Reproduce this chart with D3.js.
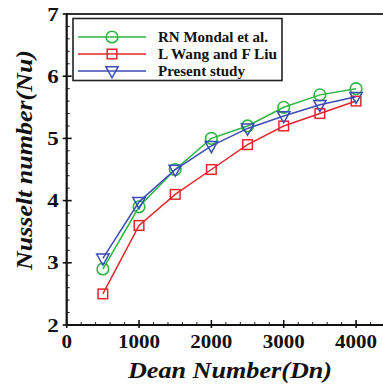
<!DOCTYPE html>
<html><head><meta charset="utf-8">
<script src="https://cdn.jsdelivr.net/npm/d3@7"></script>
<style>html,body{margin:0;padding:0;background:#fff;}svg{display:block;}</style>
</head><body>
<svg id="c" width="383" height="385"></svg>
<script>
const dean = [500, 1000, 1500, 2000, 2500, 3000, 3500, 4000];
const mondal = [2.9, 3.9, 4.5, 5.0, 5.2, 5.5, 5.7, 5.8];
const wang = [2.5, 3.6, 4.1, 4.5, 4.9, 5.2, 5.4, 5.6];
const present = [3.07, 3.98, 4.5, 4.88, 5.16, 5.36, 5.54, 5.67];
const seriesNames = ["RN Mondal et al.", "L Wang and F Liu", "Present study"];
const xTicks = [0, 1000, 2000, 3000, 4000];
const yTicks = [2, 3, 4, 5, 6, 7];

const svg = d3.select("#c");
const L = 66.7, R = 385, T = 14, B = 325;
const x = d3.scaleLinear().domain([0, 4400]).range([L, R]);
const y = d3.scaleLinear().domain([2, 7]).range([B, T]);
const font = "'Liberation Serif','Times New Roman',serif";

const series = [
  {name: seriesNames[0], vals: mondal, color: "#2fb543", shape: "circle", w: 110},
  {name: seriesNames[1], vals: wang, color: "#e5262d", shape: "square", w: 119},
  {name: seriesNames[2], vals: present, color: "#3b4db3", shape: "tri", w: 87}
];

// minor ticks
const xMinor = d3.range(0, 4401, 200).filter(v => v % 1000 !== 0);
svg.append("g").selectAll("line").data(xMinor).join("line")
  .attr("x1", d => x(d)).attr("x2", d => x(d)).attr("y1", B).attr("y2", B - 3)
  .attr("stroke", "#222").attr("stroke-width", 1);
const yMinor = d3.range(2, 7.001, 0.2).filter(v => Math.abs(v - Math.round(v)) > 0.01);
svg.append("g").selectAll("line").data(yMinor).join("line")
  .attr("x1", L).attr("x2", L + 3).attr("y1", d => y(d)).attr("y2", d => y(d))
  .attr("stroke", "#222").attr("stroke-width", 1);
// major ticks
svg.append("g").selectAll("line").data(xTicks).join("line")
  .attr("x1", d => x(d)).attr("x2", d => x(d)).attr("y1", B + 3).attr("y2", B - 5)
  .attr("stroke", "#111").attr("stroke-width", 1.6);
svg.append("g").selectAll("line").data(yTicks).join("line")
  .attr("x1", L - 4).attr("x2", L + 5).attr("y1", d => y(d)).attr("y2", d => y(d))
  .attr("stroke", "#111").attr("stroke-width", 1.6);

// frame
svg.append("line").attr("x1", L).attr("x2", 383).attr("y1", T).attr("y2", T)
  .attr("stroke", "#333").attr("stroke-width", 2.2);
svg.append("line").attr("x1", L).attr("x2", 383).attr("y1", B).attr("y2", B)
  .attr("stroke", "#111").attr("stroke-width", 2.2);
svg.append("line").attr("x1", L).attr("x2", L).attr("y1", T - 1).attr("y2", B + 1)
  .attr("stroke", "#111").attr("stroke-width", 2.2);

// tick labels
svg.append("g").selectAll("text").data(xTicks).join("text")
  .attr("x", d => x(d)).attr("y", B + 23).attr("text-anchor", "middle")
  .attr("font-family", font).attr("font-weight", "bold").attr("font-size", 19)
  .attr("textLength", d => String(d).length * 10.5).attr("lengthAdjust", "spacingAndGlyphs")
  .attr("fill", "#111").text(d => d);
svg.append("g").selectAll("text").data(yTicks).join("text")
  .attr("x", L - 8).attr("y", d => y(d) + 6.5).attr("text-anchor", "end")
  .attr("font-family", font).attr("font-weight", "bold").attr("font-size", 19)
  .attr("textLength", 11.5).attr("lengthAdjust", "spacingAndGlyphs")
  .attr("fill", "#111").text(d => d);

// axis titles
svg.append("text").attr("x", 230).attr("y", 378).attr("text-anchor", "middle")
  .attr("font-family", font).attr("font-weight", "bold").attr("font-style", "italic")
  .attr("font-size", 23).attr("textLength", 204).attr("lengthAdjust", "spacingAndGlyphs")
  .attr("fill", "#111").text("Dean Number(Dn)");
svg.append("text").attr("transform", "translate(32,160) rotate(-90)").attr("text-anchor", "middle")
  .attr("font-family", font).attr("font-weight", "bold").attr("font-style", "italic")
  .attr("font-size", 23).attr("textLength", 220).attr("lengthAdjust", "spacingAndGlyphs")
  .attr("fill", "#111").text("Nusselt number(Nu)");

function marker(g, shape, color, cx, cy) {
  if (shape === "circle") {
    g.append("circle").attr("cx", cx).attr("cy", cy).attr("r", 5.8)
      .attr("fill", "none").attr("stroke", color).attr("stroke-width", 1.6);
  } else if (shape === "square") {
    g.append("rect").attr("x", cx - 4.8).attr("y", cy - 4.8).attr("width", 9.6).attr("height", 9.6)
      .attr("fill", "none").attr("stroke", color).attr("stroke-width", 1.5);
  } else {
    const s = 6.2;
    g.append("path").attr("d", `M${cx - s},${cy - s * 0.7}L${cx + s},${cy - s * 0.7}L${cx},${cy + s * 1.1}Z`)
      .attr("fill", "none").attr("stroke", color).attr("stroke-width", 1.5);
  }
}

const line = d3.line().x(d => x(d[0])).y(d => y(d[1]));
const drawOrder = [1, 0, 2];
drawOrder.forEach(i => {
  const s = series[i];
  const pts = dean.map((d, j) => [d, s.vals[j]]);
  const g = svg.append("g");
  g.append("path").attr("d", line(pts)).attr("fill", "none")
    .attr("stroke", s.color).attr("stroke-width", 1.5);
  pts.forEach(p => marker(g, s.shape, s.color, x(p[0]), y(p[1])));
});

// legend
const lg = svg.append("g");
lg.append("rect").attr("x", 73).attr("y", 18.5).attr("width", 209).attr("height", 62)
  .attr("fill", "#fff").attr("stroke", "#222").attr("stroke-width", 1.6);
series.forEach((s, i) => {
  const yy = 37 + i * 17;
  lg.append("line").attr("x1", 78).attr("x2", 146).attr("y1", yy).attr("y2", yy)
    .attr("stroke", s.color).attr("stroke-width", 1.6);
  marker(lg, s.shape, s.color, 112, yy);
  lg.append("text").attr("x", 158).attr("y", yy + 5)
    .attr("font-family", font).attr("font-weight", "bold").attr("font-size", 14.5)
    .attr("textLength", s.w).attr("lengthAdjust", "spacingAndGlyphs")
    .attr("fill", "#111").text(s.name);
});
</script>
</body></html>
